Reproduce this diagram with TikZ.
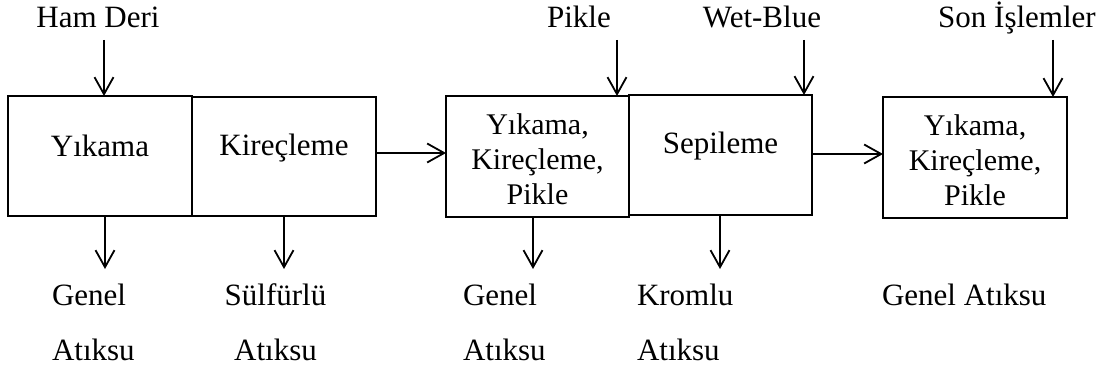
\documentclass[tikz,border=0pt]{standalone}
\usepackage{fontspec}
\setmainfont{Liberation Serif}
\usetikzlibrary{arrows.meta}
\begin{document}
\begin{tikzpicture}[x=1pt,y=-1pt,
  every node/.style={inner sep=0pt, outer sep=0pt},
  lbl/.style={font=\fontsize{31}{37}\selectfont},
  botlbl/.style={font=\fontsize{31}{55}\selectfont, align=left, anchor=north west},
  box/.style={draw, line width=2.2pt, minimum width=184pt, minimum height=120pt,
    font=\fontsize{31}{37}\selectfont, text height=21pt},
  mbox/.style={draw, line width=2.2pt, minimum width=184pt, minimum height=121pt,
    font=\fontsize{30}{35}\selectfont, align=center},
  arr/.style={line width=1.8pt, -{Straight Barb[length=17pt,width=19pt]}}
]
\useasboundingbox (0,0) rectangle (1105,369);

% boxes
\node[box, text depth=21pt] (b1) at (100,156) {Yıkama};
\node[box, minimum height=119pt, text depth=24pt] (b2) at (284,156.5) {Kireçleme};
\node[mbox, minimum width=183pt] (b3) at (537.5,156.5) {\rule{0pt}{27pt}Yıkama,\\Kireçleme,\\Pikle};
\node[box, minimum width=183pt, text depth=25pt] (b4) at (720.5,155) {Sepileme};
\node[mbox] (b5) at (975,157.5) {\rule{0pt}{27pt}Yıkama,\\Kireçleme,\\Pikle};

% top labels
\node[lbl, anchor=base] (hd) at (98,28) {Ham Deri};
\node[lbl, anchor=base] (pk) at (579,28) {Pikle};
\node[lbl, anchor=base] (wb) at (762,28) {Wet-Blue};
\node[lbl, anchor=base] (si) at (1017,28) {Son İşlemler};

% top arrows
\coordinate (t1) at (104,40);
\coordinate (t3) at (617,40);
\coordinate (t4) at (804,40);
\coordinate (t5) at (1053,40);
\draw[arr] (t1) -- (t1 |- b1.north);
\draw[arr] (t3) -- (t3 |- b3.north);
\draw[arr] (t4) -- (t4 |- b4.north);
\draw[arr] (t5) -- (t5 |- b5.north);

% horizontal arrows
\coordinate (h1) at (376,153);
\coordinate (h2) at (812,154);
\draw[arr] (b2.east |- h1) -- (b3.west |- h1);
\draw[arr] (b4.east |- h2) -- (b5.west |- h2);

% bottom arrows
\coordinate (d1) at (105,269);
\coordinate (d2) at (284,269);
\coordinate (d3) at (533,269);
\coordinate (d4) at (720,269);
\draw[arr] (d1 |- b1.south) -- (d1);
\draw[arr] (d2 |- b2.south) -- (d2);
\draw[arr] (d3 |- b3.south) -- (d3);
\draw[arr] (d4 |- b4.south) -- (d4);

% bottom labels
\node[botlbl] (w1) at (52,283.8) {Genel\\Atıksu};
\node[botlbl, align=center, anchor=north] (w2) at (275.5,283.8) {Sülfürlü\\Atıksu};
\node[botlbl] (w3) at (463,283.8) {Genel\\Atıksu};
\node[botlbl] (w4) at (637,283.8) {Kromlu\\Atıksu};
\node[botlbl] (w5) at (882,283.8) {Genel Atıksu};
\end{tikzpicture}
\end{document}
